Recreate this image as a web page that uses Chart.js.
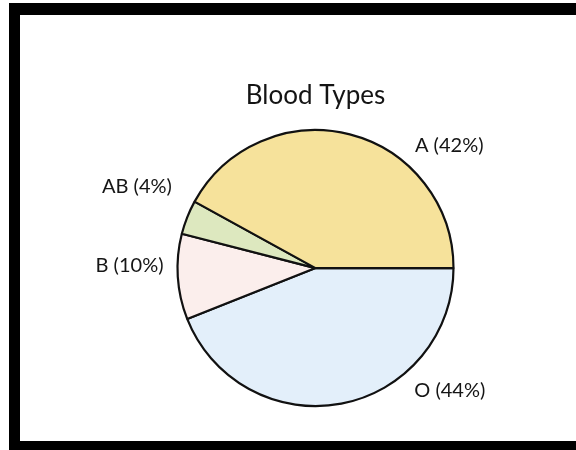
<!DOCTYPE html>
<html>
<head>
<meta charset="utf-8">
<script src="https://cdn.jsdelivr.net/npm/chart.js@4/dist/chart.umd.min.js"></script>
<style>
  html, body { margin: 0; padding: 0; background: #fff; overflow: hidden; }
  #wrap { position: relative; width: 576px; height: 450px; }
  #frame {
    position: absolute; left: 9px; top: 3px; right: -20px; bottom: 0;
    border-style: solid; border-color: #000;
    border-width: 12px 0 9px 11px;
    pointer-events: none;
  }
  canvas { position: absolute; left: 0; top: 0; }
</style>
</head>
<body>
<div id="wrap">
  <canvas id="blood-chart" width="576" height="450"></canvas>
  <div id="frame"></div>
</div>
<script>
// Blood types, drawn clockwise from 3 o'clock
const bloodTypes = ['O', 'B', 'AB', 'A'];
const percentages = [44, 10, 4, 42];
const sliceColors = ['#e3effa', '#fbeeec', '#dde8bf', '#f6e29b'];

// where each outside label sits (degrees from 3 o'clock, distance from centre)
const labelPlacement = [
    { angle: 51, dist: 157 },
    { angle: 181, dist: 152 },
    { angle: 209.5, dist: 165 },
    { angle: -51, dist: 158 }
];

const outsideLabels = {
    id: 'outsideLabels',
    afterDatasetsDraw(chart) {
        const ctx = chart.ctx;
        const arcs = chart.getDatasetMeta(0).data;
        ctx.save();
        ctx.font = '20px Lato, "Open Sans", sans-serif';
        ctx.fillStyle = '#151515';
        ctx.textBaseline = 'middle';
        arcs.forEach((arc, i) => {
            const p = labelPlacement[i];
            const rad = p.angle * Math.PI / 180;
            const x = arc.x + p.dist * Math.cos(rad);
            const y = arc.y + p.dist * Math.sin(rad);
            ctx.textAlign = Math.cos(rad) < 0 ? 'right' : 'left';
            ctx.fillText(`${bloodTypes[i]} (${percentages[i]}%)`, x, y);
        });
        ctx.restore();
    }
};

document.addEventListener('DOMContentLoaded', () => {
    const ctx = document.getElementById('blood-chart').getContext('2d');
    new Chart(ctx, {
        type: 'pie',
        data: {
            labels: bloodTypes,
            datasets: [{
                data: percentages,
                backgroundColor: sliceColors,
                borderColor: '#111',
                borderWidth: 2.2,
                radius: 138
            }]
        },
        options: {
            responsive: false,
            animation: false,
            rotation: 90,
            layout: {
                padding: { left: 55, right: 0, top: 80, bottom: 40 }
            },
            plugins: {
                legend: { display: false },
                tooltip: { enabled: false },
                title: {
                    display: true,
                    text: 'Blood Types',
                    color: '#141414',
                    font: { family: 'Lato, "Open Sans", sans-serif', size: 26, weight: 'normal' },
                    padding: { top: 0, bottom: 15 }
                }
            }
        },
        plugins: [outsideLabels]
    });
});
</script>
</body>
</html>
